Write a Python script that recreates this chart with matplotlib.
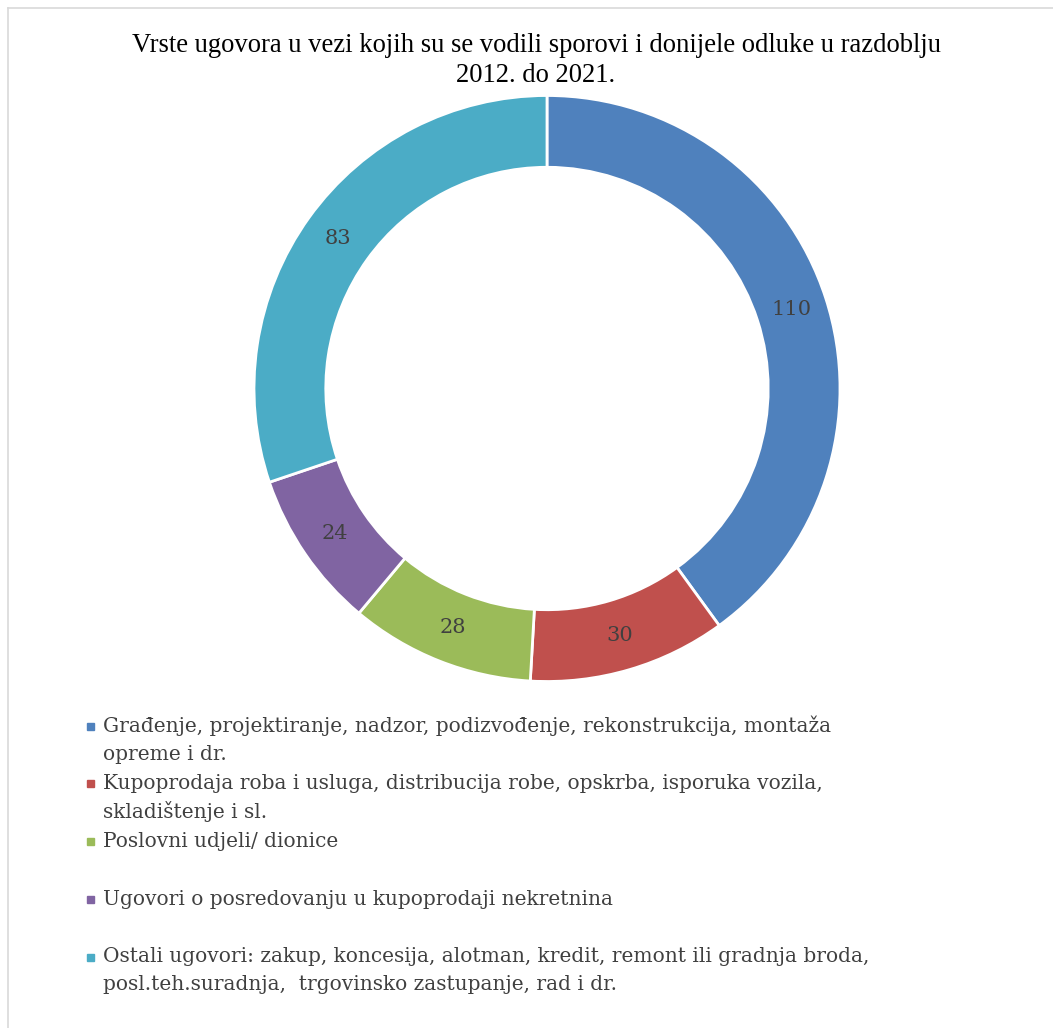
import matplotlib
matplotlib.use("Agg")
import matplotlib.pyplot as plt
from matplotlib.patches import Rectangle
from matplotlib.lines import Line2D
import numpy as np

title = "Vrste ugovora u vezi kojih su se vodili sporovi i donijele odluke u razdoblju\n2012. do 2021."
categories = [
    "Građenje, projektiranje, nadzor, podizvođenje, rekonstrukcija, montaža\nopreme i dr.",
    "Kupoprodaja roba i usluga, distribucija robe, opskrba, isporuka vozila,\nskladištenje i sl.",
    "Poslovni udjeli/ dionice",
    "Ugovori o posredovanju u kupoprodaji nekretnina",
    "Ostali ugovori: zakup, koncesija, alotman, kredit, remont ili gradnja broda,\nposl.teh.suradnja,  trgovinsko zastupanje, rad i dr.",
]
values = [110, 30, 28, 24, 83]
colors = ["#4F81BD", "#C0504D", "#9BBB59", "#8064A2", "#4BACC6"]

W, H = 1053, 1028
fig = plt.figure(figsize=(W / 100, H / 100), dpi=100)

def fx(px):
    return px / W

def fy(py):
    return 1 - py / H

# border (top and left visible)
fig.add_artist(Line2D([fx(8), fx(8)], [fy(8), 0], color="#D9D9D9", lw=1.2))
fig.add_artist(Line2D([fx(8), 1], [fy(8), fy(8)], color="#D9D9D9", lw=1.2))

# donut
cx, cy, r = 547, 388.5, 293
ax = fig.add_axes([fx(cx - r), fy(cy + r), 2 * r / W, 2 * r / H])
ring = 0.245
wedges, texts = ax.pie(
    values, colors=colors, startangle=90, counterclock=False, radius=1,
    wedgeprops=dict(width=ring, edgecolor="white", linewidth=2),
)
for w, v in zip(wedges, values):
    ang = np.deg2rad((w.theta1 + w.theta2) / 2)
    rr = 1 - ring / 2
    ax.text(rr * np.cos(ang), rr * np.sin(ang), str(v), ha="center", va="center",
            fontsize=15, family="DejaVu Serif", color="#404040")
ax.set_xlim(-1, 1)
ax.set_ylim(-1, 1)
ax.set_aspect("equal")
ax.axis("off")

# title
fig.text(fx(536), fy(45), title.split("\n")[0], ha="center", va="center",
         fontsize=19.2, family="Liberation Serif", color="black")
fig.text(fx(536), fy(76), title.split("\n")[1], ha="center", va="center",
         fontsize=19.2, family="Liberation Serif", color="black")

# legend
slot0, slot_h, line_h = 726, 57.75, 28
for i, (lab, col) in enumerate(zip(categories, colors)):
    y0 = slot0 + i * slot_h
    fig.add_artist(Rectangle((fx(87), fy(y0 + 3.5)), 7 / W, 7 / H, color=col,
                             transform=fig.transFigure))
    for j, line in enumerate(lab.split("\n")):
        fig.text(fx(103), fy(y0 + j * line_h), line, ha="left", va="center",
                 fontsize=14.5, family="DejaVu Serif", color="#404040")

fig.savefig("out.png", dpi=100, facecolor="white")
